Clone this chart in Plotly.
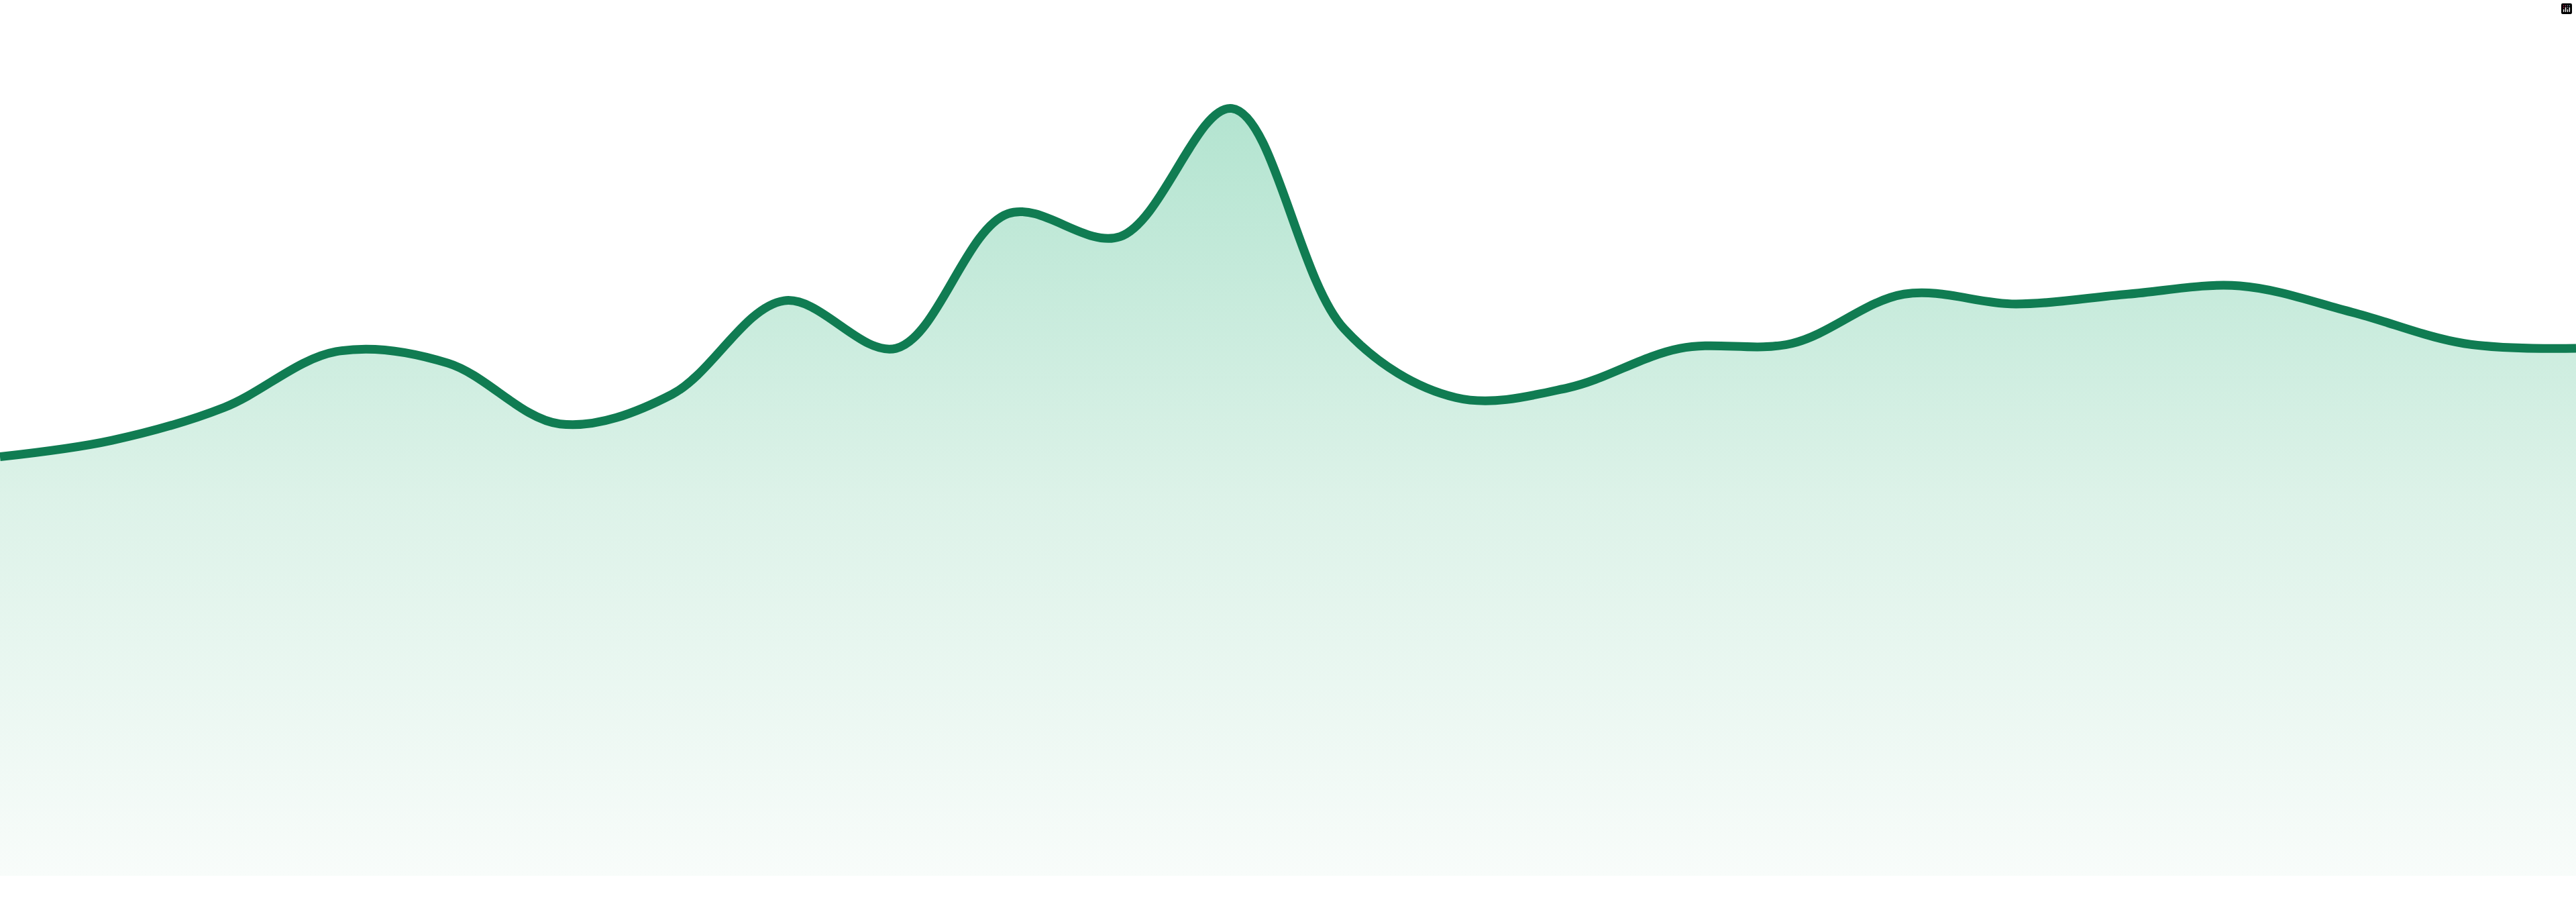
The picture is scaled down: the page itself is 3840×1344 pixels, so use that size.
import plotly.graph_objects as go

# one point per period
periods = list(range(24))
values = [255, 265, 285, 319, 312, 275, 293, 350, 321, 403, 389, 467,
          333, 291, 297, 321, 324, 354, 348, 354, 359, 343, 324, 321]

line_color = "#107c52"

fig = go.Figure()
fig.add_trace(go.Scatter(
    x=periods,
    y=values,
    mode="lines",
    line=dict(color=line_color, width=13, shape="spline", smoothing=1.0),
    fill="tozeroy",
    fillgradient=dict(
        type="vertical",
        colorscale=[[0, "#f8fcfa"], [0.5, "#dcf2e8"], [1, "#b3e4d0"]],
    ),
    hoverinfo="skip",
    showlegend=False,
))

hidden_axis = dict(showgrid=False, zeroline=False, showline=False,
                   showticklabels=False, ticks="", fixedrange=True)

fig.update_layout(
    width=3840,
    height=1344,
    margin=dict(l=0, r=0, t=0, b=39),
    paper_bgcolor="white",
    plot_bgcolor="white",
    xaxis=dict(range=[0, 23], **hidden_axis),
    yaxis=dict(range=[0, 533], **hidden_axis),
    modebar=dict(bgcolor="rgba(0,0,0,0)", color="rgba(0,0,0,0)",
                 activecolor="rgba(0,0,0,0)"),
)

# drop the page's default body margin so the chart sits flush with the window
fig.write_html("out.html", post_script="document.body.style.margin='0';")
